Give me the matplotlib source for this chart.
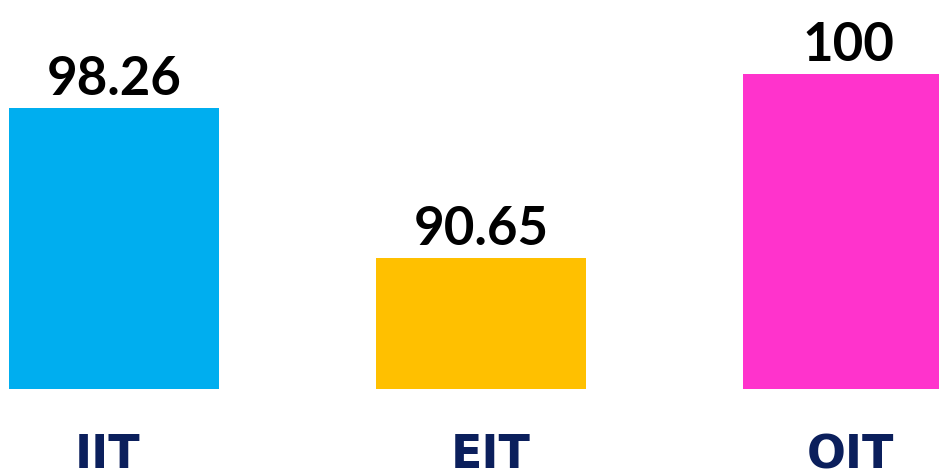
import matplotlib
matplotlib.use("Agg")
import matplotlib.pyplot as plt
from matplotlib.transforms import blended_transform_factory

categories = ["IIT", "EIT", "OIT"]
values = [98.26, 90.65, 100]
labels = ["98.26", "90.65", "100"]
colors = ["#00AEEF", "#FFC000", "#FF33CC"]

fig = plt.figure(figsize=(9.39, 4.73), dpi=100)
# axes fill the figure above the category labels
ax = fig.add_axes([0, 84 / 473, 1, 389 / 473])
x = [0, 1, 2]
ax.bar(x, values, width=0.572, color=colors, bottom=0)
ax.set_xlim(-0.3106, 2.248)
ax.set_ylim(84, 103.77)
ax.axis("off")

for xi, v, lab in zip(x, values, labels):
    ax.annotate(lab, (xi, v), xytext=(0, 9.5), textcoords="offset points",
                ha="center", va="baseline", fontsize=38, fontweight="bold",
                family=["Lato", "DejaVu Sans"], color="black")

trans = blended_transform_factory(ax.transData, fig.transFigure)
label_dx = [-6, 10, 2]  # pixel offsets of the category labels
for xi, cat, dx in zip(x, categories, label_dx):
    ax.text(xi + dx / 367, 1 - 433 / 473, cat, transform=trans,
            ha="center", va="top", fontsize=33, fontweight="bold",
            family=["DejaVu Sans"], color="#0B1F5C", clip_on=False)

fig.savefig("out.png", dpi=100)
